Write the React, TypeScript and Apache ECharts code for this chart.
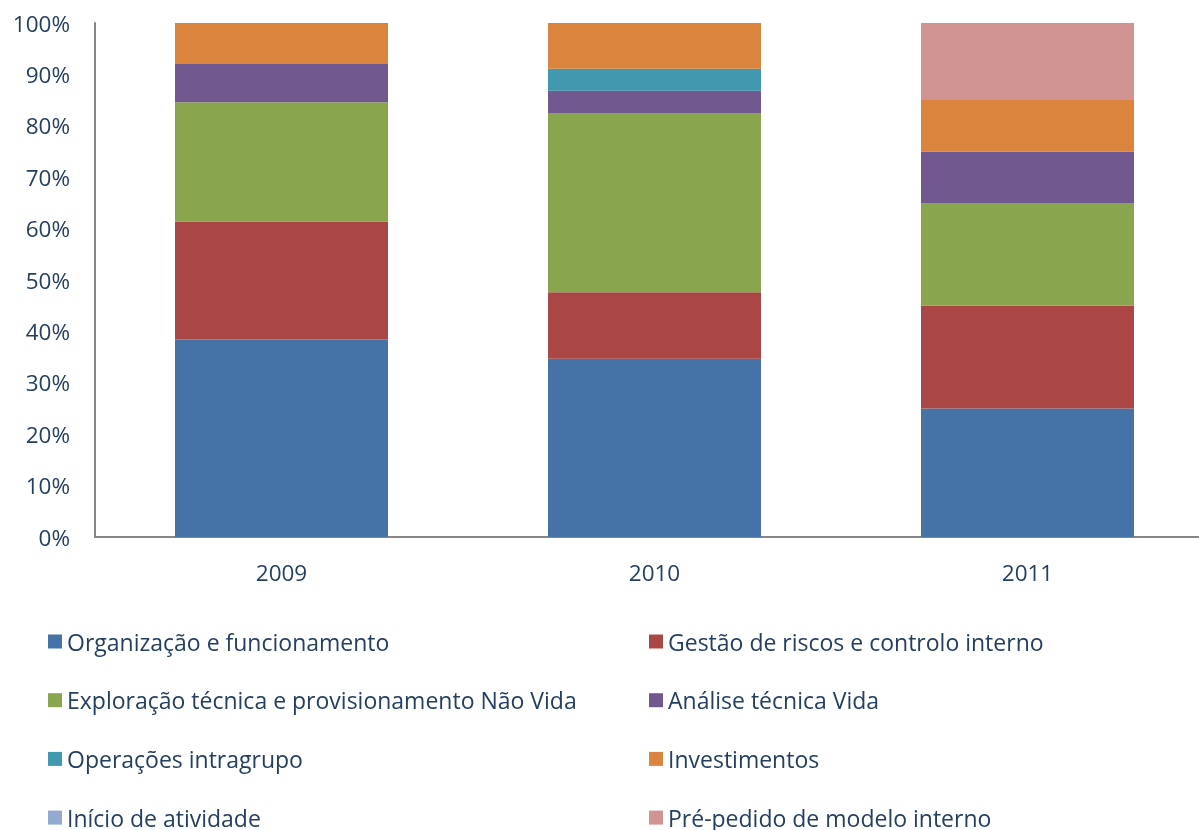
import React, { useEffect, useRef } from "react";
import * as echarts from "echarts";

const categories = ["2009", "2010", "2011"];
const seriesNames = [
  "Organização e funcionamento",
  "Gestão de riscos e controlo interno",
  "Exploração técnica e provisionamento Não Vida",
  "Análise técnica Vida",
  "Operações intragrupo",
  "Investimentos",
  "Início de atividade",
  "Pré-pedido de modelo interno",
];
const organizacao = [38.4, 34.7, 25];
const gestaoRiscos = [23.0, 12.9, 20];
const exploracaoNaoVida = [23.2, 34.9, 20];
const analiseVida = [7.4, 4.3, 10];
const intragrupo = [0, 4.3, 0];
const investimentos = [8.0, 8.9, 10];
const inicioAtividade = [0, 0, 0];
const prePedido = [0, 0, 15];
const yTicks = [0, 10, 20, 30, 40, 50, 60, 70, 80, 90, 100];

const seriesData = [
  organizacao,
  gestaoRiscos,
  exploracaoNaoVida,
  analiseVida,
  intragrupo,
  investimentos,
  inicioAtividade,
  prePedido,
];
const colors = [
  "#4572A7",
  "#AA4643",
  "#89A54E",
  "#71588F",
  "#4198AF",
  "#DB843D",
  "#93A9CF",
  "#D19392",
];

const FONT = "'Open Sans'";
const TEXT = "#243F60";

export default function App() {
  const ref = useRef<HTMLDivElement>(null);
  useEffect(() => {
    if (!ref.current) return;
    const chart = echarts.init(ref.current, undefined, { renderer: "svg" });
    const legendText = {
      color: TEXT,
      fontFamily: FONT,
      fontSize: 23,
      lineHeight: 23,
    };
    const legendBase = {
      orient: "vertical",
      top: 630,
      padding: 0,
      itemWidth: 14,
      itemHeight: 14,
      itemGap: 35.7,
      icon: "rect",
      textStyle: legendText,
    };
    chart.setOption({
      animation: false,
      color: colors,
      grid: { left: 95, top: 23, width: 1119, height: 514 },
      xAxis: {
        type: "category",
        data: categories,
        axisLine: { lineStyle: { color: "#868686", width: 2 } },
        axisTick: { show: false },
        axisLabel: {
          color: TEXT,
          fontFamily: FONT,
          fontSize: 22.5,
          margin: 24,
        },
      },
      yAxis: {
        type: "value",
        min: 0,
        max: 100,
        interval: 10,
        axisLine: { show: true, lineStyle: { color: "#868686", width: 2 } },
        axisTick: { show: false },
        splitLine: { show: false },
        axisLabel: {
          color: TEXT,
          fontFamily: FONT,
          fontSize: 22.5,
          margin: 25,
          customValues: yTicks,
          formatter: (v: number) => v + "%",
        },
      },
      legend: [
        {
          ...legendBase,
          left: 48,
          data: [seriesNames[0], seriesNames[2], seriesNames[4], seriesNames[6]],
        },
        {
          ...legendBase,
          left: 649,
          data: [seriesNames[1], seriesNames[3], seriesNames[5], seriesNames[7]],
        },
      ],
      series: seriesNames.map((name, i) => ({
        name,
        type: "bar",
        stack: "total",
        barWidth: 213,
        data: seriesData[i],
        itemStyle: { color: colors[i] },
      })),
    });
    return () => chart.dispose();
  }, []);
  return (
    <div
      ref={ref}
      style={{ position: "fixed", left: 0, top: 0, width: 1240, height: 880 }}
    />
  );
}
